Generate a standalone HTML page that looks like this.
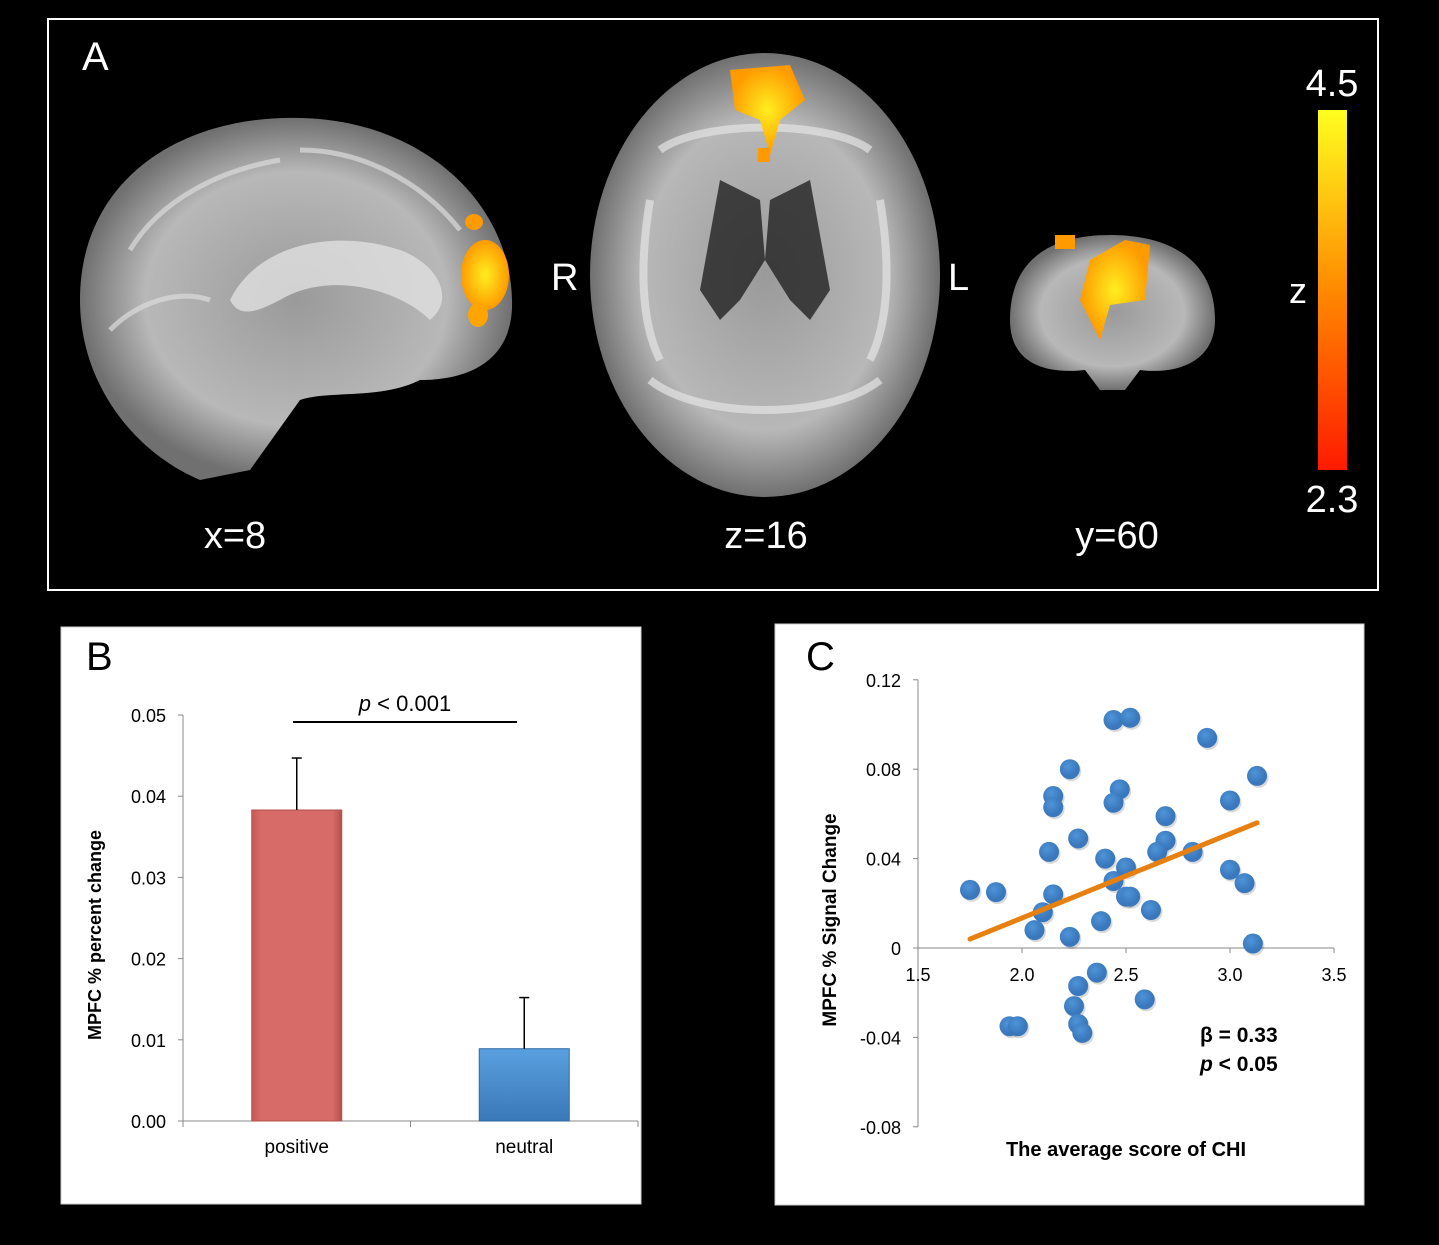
<!DOCTYPE html>
<html><head><meta charset="utf-8"><style>
body{margin:0;background:#000;width:1439px;height:1240px;overflow:hidden;font-family:"Liberation Sans",sans-serif}
svg text{font-family:"Liberation Sans",sans-serif}
</style></head><body>
<svg width="1439" height="1240" viewBox="0 0 1439 1240">
<defs>
<linearGradient id="cb" x1="0" y1="1" x2="0" y2="0"><stop offset="0" stop-color="#ff1a00"/><stop offset="0.5" stop-color="#ff8a00"/><stop offset="1" stop-color="#ffff20"/></linearGradient>
<radialGradient id="brain" cx="0.5" cy="0.5" r="0.5"><stop offset="0" stop-color="#9a9a9a"/><stop offset="0.7" stop-color="#b8b8b8"/><stop offset="1" stop-color="#707070"/></radialGradient>
<radialGradient id="blob"><stop offset="0" stop-color="#ffee20"/><stop offset="1" stop-color="#ff9a00"/></radialGradient>
<linearGradient id="redbar" x1="0" x2="1"><stop offset="0" stop-color="#c85a55"/><stop offset="0.1" stop-color="#d66b67"/><stop offset="0.9" stop-color="#d66b67"/><stop offset="1" stop-color="#b5504c"/></linearGradient>
<linearGradient id="bluebar" x1="0" y1="0" x2="0" y2="1"><stop offset="0" stop-color="#5aa0e0"/><stop offset="1" stop-color="#3a78b8"/></linearGradient>
<radialGradient id="dot" cx="0.4" cy="0.35"><stop offset="0" stop-color="#4f94d8"/><stop offset="1" stop-color="#3a78bd"/></radialGradient>
</defs>
<g>
<rect x="48" y="19" width="1330" height="571" fill="#000" stroke="#fff" stroke-width="2"/>
<text x="82" y="70" font-size="40" fill="#fff">A</text>
<g>
<path d="M80,300 C80,180 180,115 300,118 C420,120 510,200 512,300 C514,360 470,380 420,380 C380,400 330,390 300,400 L250,470 L200,480 C130,450 80,380 80,300Z" fill="url(#brain)"/>
<path d="M230,300 C260,240 340,230 400,250 C440,265 455,300 430,320 C400,290 330,270 280,300 C260,310 240,320 230,300Z" fill="#e0e0e0" opacity="0.8"/>
<g fill="none" stroke="#dcdcdc" stroke-width="5" opacity="0.7"><path d="M130,250 C160,200 220,170 280,160"/><path d="M300,150 C360,150 420,180 460,230"/><path d="M110,330 C140,300 180,290 210,300"/></g>
<ellipse cx="485" cy="275" rx="24" ry="35" fill="url(#blob)"/>
<ellipse cx="474" cy="222" rx="9" ry="8" fill="#ff9a00"/>
<ellipse cx="478" cy="315" rx="10" ry="12" fill="#ffa500"/>
</g>
<g>
<ellipse cx="765" cy="275" rx="175" ry="222" fill="url(#brain)"/>
<g fill="none" stroke="#e4e4e4" stroke-width="8" opacity="0.7"><path d="M660,150 C700,120 830,120 870,150"/><path d="M650,380 C700,420 830,420 880,380"/><path d="M650,200 C640,260 640,320 660,360"/><path d="M880,200 C890,260 890,320 870,360"/></g>
<path d="M730,70 L790,65 L805,100 L780,120 L770,155 L760,120 L735,110Z" fill="url(#blob)"/>
<rect x="758" y="148" width="12" height="14" fill="#ff9a00"/>
<path d="M720,180 L760,200 L765,260 L740,300 L720,320 L700,290Z" fill="#222" opacity="0.8"/>
<path d="M810,180 L770,200 L765,260 L790,300 L810,320 L830,290Z" fill="#222" opacity="0.8"/>
</g>
<g>
<path d="M1010,320 C1010,260 1050,235 1110,235 C1170,235 1215,260 1215,320 C1215,360 1180,375 1140,370 L1125,390 L1100,390 L1085,370 C1040,375 1010,360 1010,320Z" fill="url(#brain)"/>
<path d="M1090,260 L1125,240 L1150,245 L1145,300 L1110,305 L1100,340 L1080,300Z" fill="url(#blob)"/>
<rect x="1055" y="235" width="20" height="14" fill="#ff9a00"/>
</g>
<text x="551" y="290" font-size="38" fill="#fff">R</text>
<text x="948" y="290" font-size="38" fill="#fff">L</text>
<text x="235" y="548" font-size="38" fill="#fff" text-anchor="middle">x=8</text>
<text x="766" y="548" font-size="38" fill="#fff" text-anchor="middle">z=16</text>
<text x="1117" y="548" font-size="38" fill="#fff" text-anchor="middle">y=60</text>
<rect x="1318" y="110" width="29" height="360" fill="url(#cb)"/>
<text x="1332" y="96" font-size="38" fill="#fff" text-anchor="middle">4.5</text>
<text x="1332" y="512" font-size="38" fill="#fff" text-anchor="middle">2.3</text>
<text x="1298" y="303" font-size="36" fill="#fff" text-anchor="middle">z</text>
</g>
<g>
<rect x="61" y="627" width="580" height="577" fill="#fff" stroke="#ccc"/>
<text x="86" y="670" font-size="40" fill="#000">B</text>
<g id="bchart"></g>
<text transform="translate(101,935) rotate(-90)" font-size="18" font-weight="bold" text-anchor="middle">MPFC % percent change</text>
<line x1="293" y1="722" x2="517" y2="722" stroke="#000" stroke-width="2"/>
<text x="405" y="711" font-size="22" text-anchor="middle"><tspan font-style="italic">p</tspan> &lt; 0.001</text>
</g>
<g>
<rect x="775" y="624" width="589" height="581" fill="#fff" stroke="#ccc"/>
<text x="806" y="670" font-size="40" fill="#000">C</text>
<g id="cchart"></g>
<text transform="translate(836,920) rotate(-90)" font-size="19" font-weight="bold" text-anchor="middle">MPFC % Signal Change</text>
<text x="1126" y="1156" font-size="20" font-weight="bold" text-anchor="middle">The average score of CHI</text>
<text x="1200" y="1042" font-size="21" font-weight="bold">β = 0.33</text>
<text x="1200" y="1071" font-size="21" font-weight="bold"><tspan font-style="italic">p</tspan> &lt; 0.05</text>
</g>
</svg>
<script>
const NS='http://www.w3.org/2000/svg';
function mk(p,t,a){const e=document.createElementNS(NS,t);for(const k in a)e.setAttribute(k,a[k]);p.appendChild(e);return e;}
// Chart B data
const barCategories=['positive','neutral'];
const barValues=[0.0383,0.0089];
const barErrors=[0.0064,0.0063];
const bTicks=[0,0.01,0.02,0.03,0.04,0.05];
const bTickLabels=['0.00','0.01','0.02','0.03','0.04','0.05'];
// Chart C data
const scatterX=[1.75,1.875,2.44,2.52,2.89,2.23,3.13,2.15,2.15,2.47,2.44,3.0,2.69,2.27,2.69,2.13,2.65,2.82,2.40,2.50,2.44,3.0,3.07,2.15,2.50,2.52,2.62,2.10,2.06,2.23,2.38,3.11,2.36,2.27,2.59,2.25,1.94,1.98,2.27,2.29];
const scatterY=[0.026,0.025,0.102,0.103,0.094,0.080,0.077,0.068,0.063,0.071,0.065,0.066,0.059,0.049,0.048,0.043,0.043,0.043,0.040,0.036,0.030,0.035,0.029,0.024,0.023,0.023,0.017,0.016,0.008,0.005,0.012,0.002,-0.011,-0.017,-0.023,-0.026,-0.035,-0.035,-0.034,-0.038];
const trendX=[1.75,3.13];
const trendY=[0.004,0.056];
const cXTicks=[1.5,2.0,2.5,3.0,3.5];
const cXTickLabels=['1.5','2.0','2.5','3.0','3.5'];
const cYTicks=[-0.08,-0.04,0,0.04,0.08,0.12];
const cYTickLabels=['-0.08','-0.04','0','0.04','0.08','0.12'];

// Chart B
(function(){
const g=document.getElementById('bchart');
const y=v=>1121-v*8120;
const x0=183,x1=638,cw=(x1-x0)/barCategories.length;
const ax=mk(g,'line',{x1:x0,y1:y(0.05),x2:x0,y2:1121,stroke:'#888'});


const xa=mk(g,'line',{x1:x0,y1:1121,x2:x1,y2:1121,stroke:'#888'});


bTicks.forEach((t,i)=>{
 mk(g,'line',{x1:x0-5,y1:y(t),x2:x0,y2:y(t),stroke:'#888'});
 const tx=mk(g,'text',{x:166,y:y(t)+7,'font-size':18,'text-anchor':'end'});tx.textContent=bTickLabels[i];
 
 
});
for(let i=0;i<=barCategories.length;i++)mk(g,'line',{x1:x0+i*cw,y1:1121,x2:x0+i*cw,y2:1127,stroke:'#888'});
barCategories.forEach((c,i)=>{
 const cx=x0+cw*(i+0.5), w=90;
 const r=mk(g,'rect',{x:cx-w/2,y:y(barValues[i]),width:w,height:y(0)-y(barValues[i]),fill:i?'url(#bluebar)':'url(#redbar)',stroke:i?'#2f6aa5':'#b0504c'});
 
 
 const e=mk(g,'line',{x1:cx,y1:y(barValues[i]),x2:cx,y2:y(barValues[i]+barErrors[i]),stroke:'#000','stroke-width':1.5});
 
 
 mk(g,'line',{x1:cx-5,y1:y(barValues[i]+barErrors[i]),x2:cx+5,y2:y(barValues[i]+barErrors[i]),stroke:'#000','stroke-width':1.5});
 const t=mk(g,'text',{x:cx,y:1153,'font-size':19,'text-anchor':'middle'});t.textContent=c;
 
 
});
})();
// Chart C
(function(){
const g=document.getElementById('cchart');
const x=v=>918+(v-1.5)*208;
const y=v=>948-v*2235;
const ya=mk(g,'line',{x1:918,y1:y(0.12),x2:918,y2:y(-0.08),stroke:'#888'});


const xa=mk(g,'line',{x1:918,y1:y(0),x2:x(3.5),y2:y(0),stroke:'#888'});


cYTicks.forEach((t,i)=>{
 mk(g,'line',{x1:913,y1:y(t),x2:918,y2:y(t),stroke:'#888'});
 const tx=mk(g,'text',{x:901,y:y(t)+7,'font-size':18,'text-anchor':'end'});tx.textContent=cYTickLabels[i];
 
 
});
cXTicks.forEach((t,i)=>{
 mk(g,'line',{x1:x(t),y1:y(0),x2:x(t),y2:y(0)+5,stroke:'#888'});
 const tx=mk(g,'text',{x:x(t),y:981,'font-size':18,'text-anchor':'middle'});tx.textContent=cXTickLabels[i];
 
 
});
const tl=mk(g,'line',{x1:x(trendX[0]),y1:y(trendY[0]),x2:x(trendX[1]),y2:y(trendY[1]),stroke:'#e8800f','stroke-width':5,'stroke-linecap':'round'});


scatterX.forEach((v,i)=>{
 mk(g,'circle',{cx:x(v)+1.5,cy:y(scatterY[i])+2,r:10,fill:'#000',opacity:0.15});
 const c=mk(g,'circle',{cx:x(v),cy:y(scatterY[i]),r:10,fill:'url(#dot)'});
 
 
});
g.appendChild(tl);
})();
</script>
</body></html>
